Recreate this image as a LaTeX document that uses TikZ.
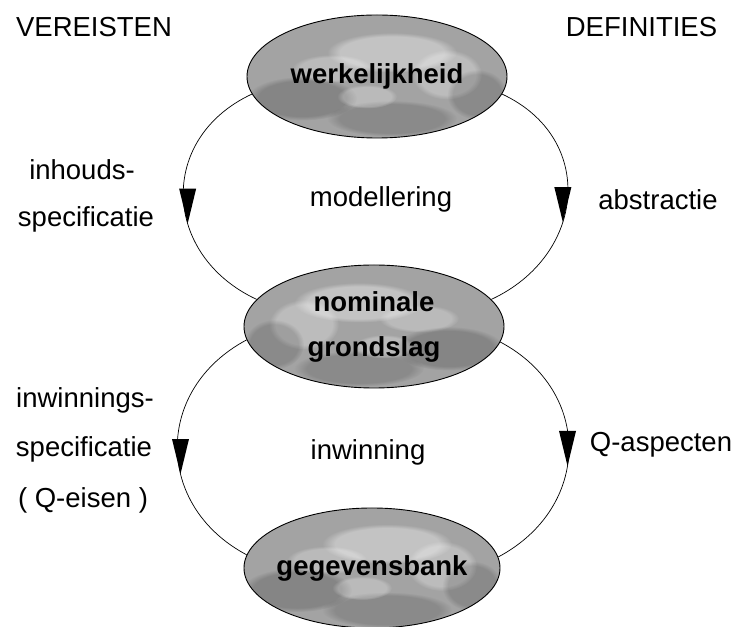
\documentclass[tikz,border=0pt]{standalone}
\usepackage{fontspec}
\setmainfont{Liberation Sans}
\usetikzlibrary{shapes.geometric,decorations.markings,fadings}

\definecolor{bodygray}{gray}{0.64}

% mottled grey body of an ellipse: #1,#2 centre, #3,#4 radii, #5 mirror factor
\newcommand\mottledisc[5]{%
  \begin{scope}[shift={(#1,#2)}]
    \fill[bodygray] (0,0) ellipse [x radius=#3, y radius=#4];
    \begin{scope}[xscale=#5]
      \clip (0,0) ellipse [x radius=#3, y radius=#4];
      \fill[white,opacity=.35,path fading=circle with fuzzy edge 20 percent] (15,24) ellipse [x radius=65, y radius=20];
      \fill[white,opacity=.28,path fading=circle with fuzzy edge 20 percent] (70,2) ellipse [x radius=35, y radius=25];
      \fill[white,opacity=.25,path fading=circle with fuzzy edge 20 percent] (-45,8) ellipse [x radius=40, y radius=14];
      \fill[black,opacity=.18,path fading=circle with fuzzy edge 20 percent] (-75,-22) ellipse [x radius=55, y radius=22];
      \fill[black,opacity=.15,path fading=circle with fuzzy edge 20 percent] (15,-42) ellipse [x radius=65, y radius=18];
      \fill[black,opacity=.15,path fading=circle with fuzzy edge 20 percent] (100,-18) ellipse [x radius=30, y radius=25];
      \fill[white,opacity=.25,path fading=circle with fuzzy edge 20 percent] (-10,-20) ellipse [x radius=30, y radius=12];
    \end{scope}
  \end{scope}}

\begin{document}
\begin{tikzpicture}[x=1pt,y=1pt,
  txt/.style={anchor=base,font=\fontsize{27.5pt}{33pt}\selectfont},
  blob/.style={draw,ellipse,line width=0.9pt,inner sep=0pt,inner xsep=-30pt,
    minimum width=260pt,minimum height=123pt,align=center,
    font=\bfseries\fontsize{27.5pt}{45pt}\selectfont},
  conn/.style={line width=0.7pt},
  tipat/.style 2 args={postaction={decorate},decoration={markings,
    mark=at position #1 with {\coordinate (#2);}}},
  downtip/.style={fill=black},
]
\useasboundingbox (0,0) rectangle (740,627);

% ellipse bodies
\mottledisc{377}{550.5}{130}{61.5}{1}
\mottledisc{374}{300.5}{130}{61.5}{-1}
\mottledisc{372}{59}{128}{60}{1}

% ellipses with their labels
\node[blob] (e1) at (377,550.5) {werkelijkheid};
\node[blob] (e2) at (374,300.5) {nominale\\grondslag};
\node[blob,minimum width=256pt,minimum height=120pt] (e3) at (372,59) {gegevensbank};

% arcs between the ellipses
\draw[conn,tipat={0.6}{t1}]  (e1.188) to[out=205,in=155,looseness=1.3] (e2.167);
\draw[conn,tipat={0.59}{t2}] (e1.352) to[out=-25,in=25,looseness=1.3] (e2.13);
\draw[conn,tipat={0.6}{t3}]  (e2.186) to[out=208,in=152,looseness=1.25] (e3.174);
\draw[conn,tipat={0.56}{t4}] (e2.353) to[out=-28,in=28,looseness=1.25] (e3.5);

% downward arrowheads on the arcs
\foreach \t in {t1,t2,t3,t4}
  \fill[downtip] (\t) -- ++(-8.5,35) -- ++(17,0) -- cycle;

% headings
\node[txt] (hl) at (94,590) {VEREISTEN};
\node[txt] (hr) at (641.5,590) {DEFINITIES};

% upper loop
\node[txt] (l1a) at (82,447) {inhouds-};
\node[txt] (l1b) at (86,400) {specificatie};
\node[txt] (m1)  at (381,420) {modellering};
\node[txt] (r1)  at (658,417) {abstractie};

% lower loop
\node[txt] (l2a) at (85,219) {inwinnings-};
\node[txt] (l2b) at (84,170) {specificatie};
\node[txt] (l2c) at (83,119) {( Q-eisen )};
\node[txt] (m2)  at (368,167) {inwinning};
\node[txt] (r2)  at (661,175) {Q-aspecten};
\end{tikzpicture}
\end{document}
